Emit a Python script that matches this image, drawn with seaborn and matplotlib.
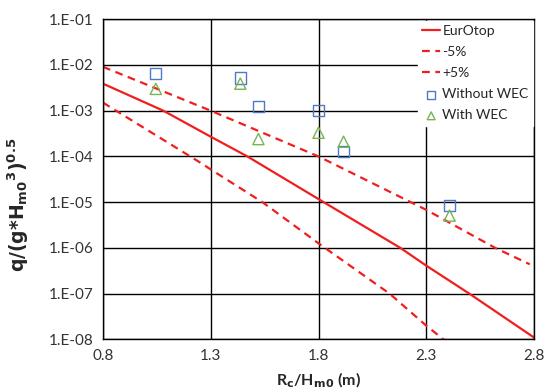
import numpy as np
import pandas as pd
import matplotlib
matplotlib.use("Agg")
import matplotlib.pyplot as plt
import seaborn as sns

# EurOtop curve and +-5% bounds
eur_x = [0.8, 1.08, 1.3, 1.47, 1.8, 2.18, 2.3, 2.5, 2.8]
eur_q = [3.9e-3, 1.0e-3, 2.7e-4, 1.0e-4, 1.17e-5, 1.0e-6, 4.1e-7, 1.0e-7, 1.1e-8]

lo_x = [0.8, 1.25, 1.3, 1.54, 1.8, 2.13, 2.3, 2.38, 2.45]
lo_q = [1.5e-3, 7.4e-5, 5.2e-5, 1.0e-5, 1.26e-6, 1.0e-7, 2.0e-8, 1.0e-8, 5.6e-9]

hi_x = [0.8, 1.3, 1.8, 2.3, 2.62, 2.78]
hi_q = [9.1e-3, 1.0e-3, 1.0e-4, 6.8e-6, 1.0e-6, 4.4e-7]

# measurements
rc_h = [1.045, 1.437, 1.521, 1.8, 1.916, 2.408]
q_without = [6.4e-3, 5.2e-3, 1.26e-3, 1.0e-3, 1.3e-4, 8.5e-6]
q_with = [3.0e-3, 3.9e-3, 2.4e-4, 3.3e-4, 2.1e-4, 5.1e-6]

xticks = [0.8, 1.3, 1.8, 2.3, 2.8]
yticks = [1e-1, 1e-2, 1e-3, 1e-4, 1e-5, 1e-6, 1e-7, 1e-8]
ylabels = ["1.E-01", "1.E-02", "1.E-03", "1.E-04", "1.E-05", "1.E-06", "1.E-07", "1.E-08"]

sns.set_style("white")
plt.rcParams['font.family'] = ['Lato', 'DejaVu Sans']
plt.rcParams['mathtext.fontset'] = 'dejavusans'

fig = plt.figure(figsize=(5.45, 3.92), dpi=100)
ax = fig.add_axes([0.189, 0.134, 0.791, 0.817])

red = '#F01E1E'
sns.lineplot(x=eur_x, y=eur_q, color=red, linewidth=1.6, label='EurOtop', ax=ax)
sns.lineplot(x=lo_x, y=lo_q, color=red, linewidth=1.6, linestyle=(0, (3.5, 2.5)), label='-5%', ax=ax)
sns.lineplot(x=hi_x, y=hi_q, color=red, linewidth=1.6, linestyle=(0, (3.5, 2.5)), label='+5%', ax=ax)
sns.scatterplot(x=rc_h, y=q_without, marker='s', s=65, facecolor='none',
                edgecolor='#4F7AC7', linewidth=1.0, label='Without WEC', ax=ax, zorder=4)
sns.scatterplot(x=rc_h, y=q_with, marker='^', s=65, facecolor='none',
                edgecolor='#7AB353', linewidth=1.0, label='With WEC', ax=ax, zorder=4)

ax.set_yscale('log')
ax.set_xlim(0.8, 2.8)
ax.set_ylim(1e-8, 1e-1)
ax.set_xticks(xticks)
ax.set_xticklabels([str(t) for t in xticks])
ax.set_yticks(yticks)
ax.set_yticklabels(ylabels)
ax.minorticks_off()
ax.tick_params(length=0, labelsize=11, colors='#333333', pad=7)
ax.grid(True, color='black', linewidth=1.0)
ax.set_axisbelow(True)
for s in ax.spines.values():
    s.set_color('black')
    s.set_linewidth(1.0)

ax.set_xlabel(r'R$_\mathbf{c}$/H$_\mathbf{m0}$ (m)', fontsize=11.5, fontweight='bold', labelpad=5)
ax.set_ylabel(r'q/(g*H$_\mathbf{m0}$$^\mathbf{3}$)$^\mathbf{0.5}$', fontsize=13.5,
              fontweight='bold', family='DejaVu Sans')
ax.yaxis.set_label_coords(-0.168, 0.42)

leg = ax.legend(loc='upper right', bbox_to_anchor=(1.0, 1.0), fontsize=10, handlelength=1.3,
                handletextpad=0.15, labelspacing=0.66, borderaxespad=0.1, markerscale=0.7,
                frameon=True, fancybox=False, framealpha=1, edgecolor='white', borderpad=0.3)

fig.savefig('out.png', dpi=100)
